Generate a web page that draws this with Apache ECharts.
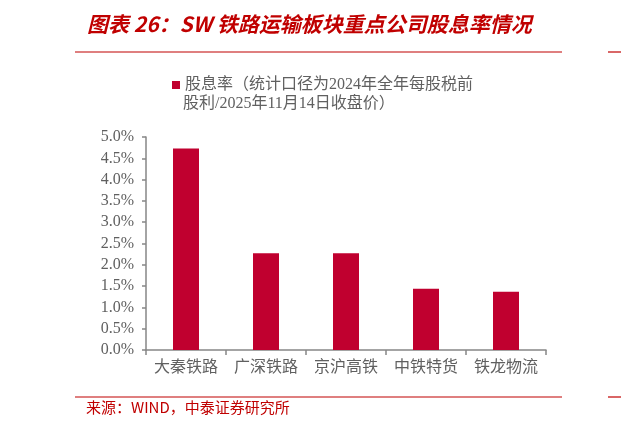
<!DOCTYPE html>
<html>
<head>
<meta charset="utf-8">
<script src="https://cdn.jsdelivr.net/npm/echarts@6/dist/echarts.min.js"></script>
<style>
  html, body { margin: 0; padding: 0; background: #fff; }
  #main { width: 621px; height: 429px; }
</style>
</head>
<body>
<div id="main"></div>
<script>
// 股息率 (%), 读自原图
var companies = ['大秦铁路', '广深铁路', '京沪高铁', '中铁特货', '铁龙物流'];
var yieldValues = [4.73, 2.27, 2.27, 1.44, 1.37];
var seriesName = '股息率（统计口径为2024年全年每股税前';
var seriesNameLine2 = '股利/2025年11月14日收盘价）';
var titleText = '图表 26：SW 铁路运输板块重点公司股息率情况';
var sourceText = '来源：WIND，中泰证券研究所';

var red = '#c00000';
var gray = '#606060';
var axisGray = '#868686';
var cjk = "'Liberation Serif', 'Noto Sans CJK SC'";

var myChart = echarts.init(document.getElementById('main'));
var option = {
    backgroundColor: '#fff',
    animation: false,
    title: {
        text: titleText,
        left: 82,
        top: 9,
        textStyle: {
            color: red,
            fontSize: 21,
            fontWeight: 'bold',
            fontStyle: 'italic',
            fontFamily: "'Noto Sans CJK SC', sans-serif"
        }
    },
    legend: {
        left: 167,
        top: 72,
        icon: 'rect',
        itemWidth: 8,
        itemHeight: 8,
        itemGap: 4,
        selectedMode: false,
        textStyle: {
            color: gray,
            fontSize: 16,
            fontFamily: cjk
        },
        data: [seriesName]
    },
    grid: {
        left: 146,
        right: 75,
        top: 137,
        bottom: 79
    },
    xAxis: {
        type: 'category',
        data: companies,
        axisLine: { lineStyle: { color: axisGray, width: 1.5 } },
        axisTick: { show: true, length: 5, lineStyle: { color: axisGray, width: 1.5 } },
        axisLabel: {
            color: gray,
            fontSize: 16,
            margin: 10,
            interval: 0,
            hideOverlap: false,
            fontFamily: cjk
        }
    },
    yAxis: {
        type: 'value',
        min: 0,
        max: 5,
        interval: 0.5,
        axisLine: { show: true, lineStyle: { color: axisGray, width: 1.5 } },
        axisTick: { show: true, length: 4, lineStyle: { color: axisGray, width: 1.5 } },
        splitLine: { show: false },
        axisLabel: {
            color: gray,
            fontSize: 16,
            margin: 12,
            fontFamily: "'Liberation Serif', serif",
            formatter: function (v) { return v.toFixed(1) + '%'; }
        }
    },
    series: [
        {
            name: seriesName,
            type: 'bar',
            data: yieldValues,
            barWidth: 26,
            itemStyle: { color: '#c0002f' }
        }
    ],
    graphic: [
        {
            type: 'text',
            left: 183,
            top: 96,
            style: { text: seriesNameLine2, fill: gray, font: '16px ' + cjk }
        },
        {
            type: 'line',
            shape: { x1: 75, y1: 52, x2: 562, y2: 52 },
            style: { stroke: red, lineWidth: 1.2 }
        },
        {
            type: 'line',
            shape: { x1: 608, y1: 52, x2: 621, y2: 52 },
            style: { stroke: red, lineWidth: 1.2 }
        },
        {
            type: 'line',
            shape: { x1: 75, y1: 397, x2: 562, y2: 397 },
            style: { stroke: red, lineWidth: 1.2 }
        },
        {
            type: 'line',
            shape: { x1: 608, y1: 397, x2: 621, y2: 397 },
            style: { stroke: red, lineWidth: 1.2 }
        },
        {
            type: 'text',
            left: 86,
            top: 400,
            style: { text: sourceText, fill: red, font: "15px 'Noto Sans CJK SC', 'Liberation Sans'" }
        }
    ]
};
myChart.setOption(option);
</script>
</body>
</html>
